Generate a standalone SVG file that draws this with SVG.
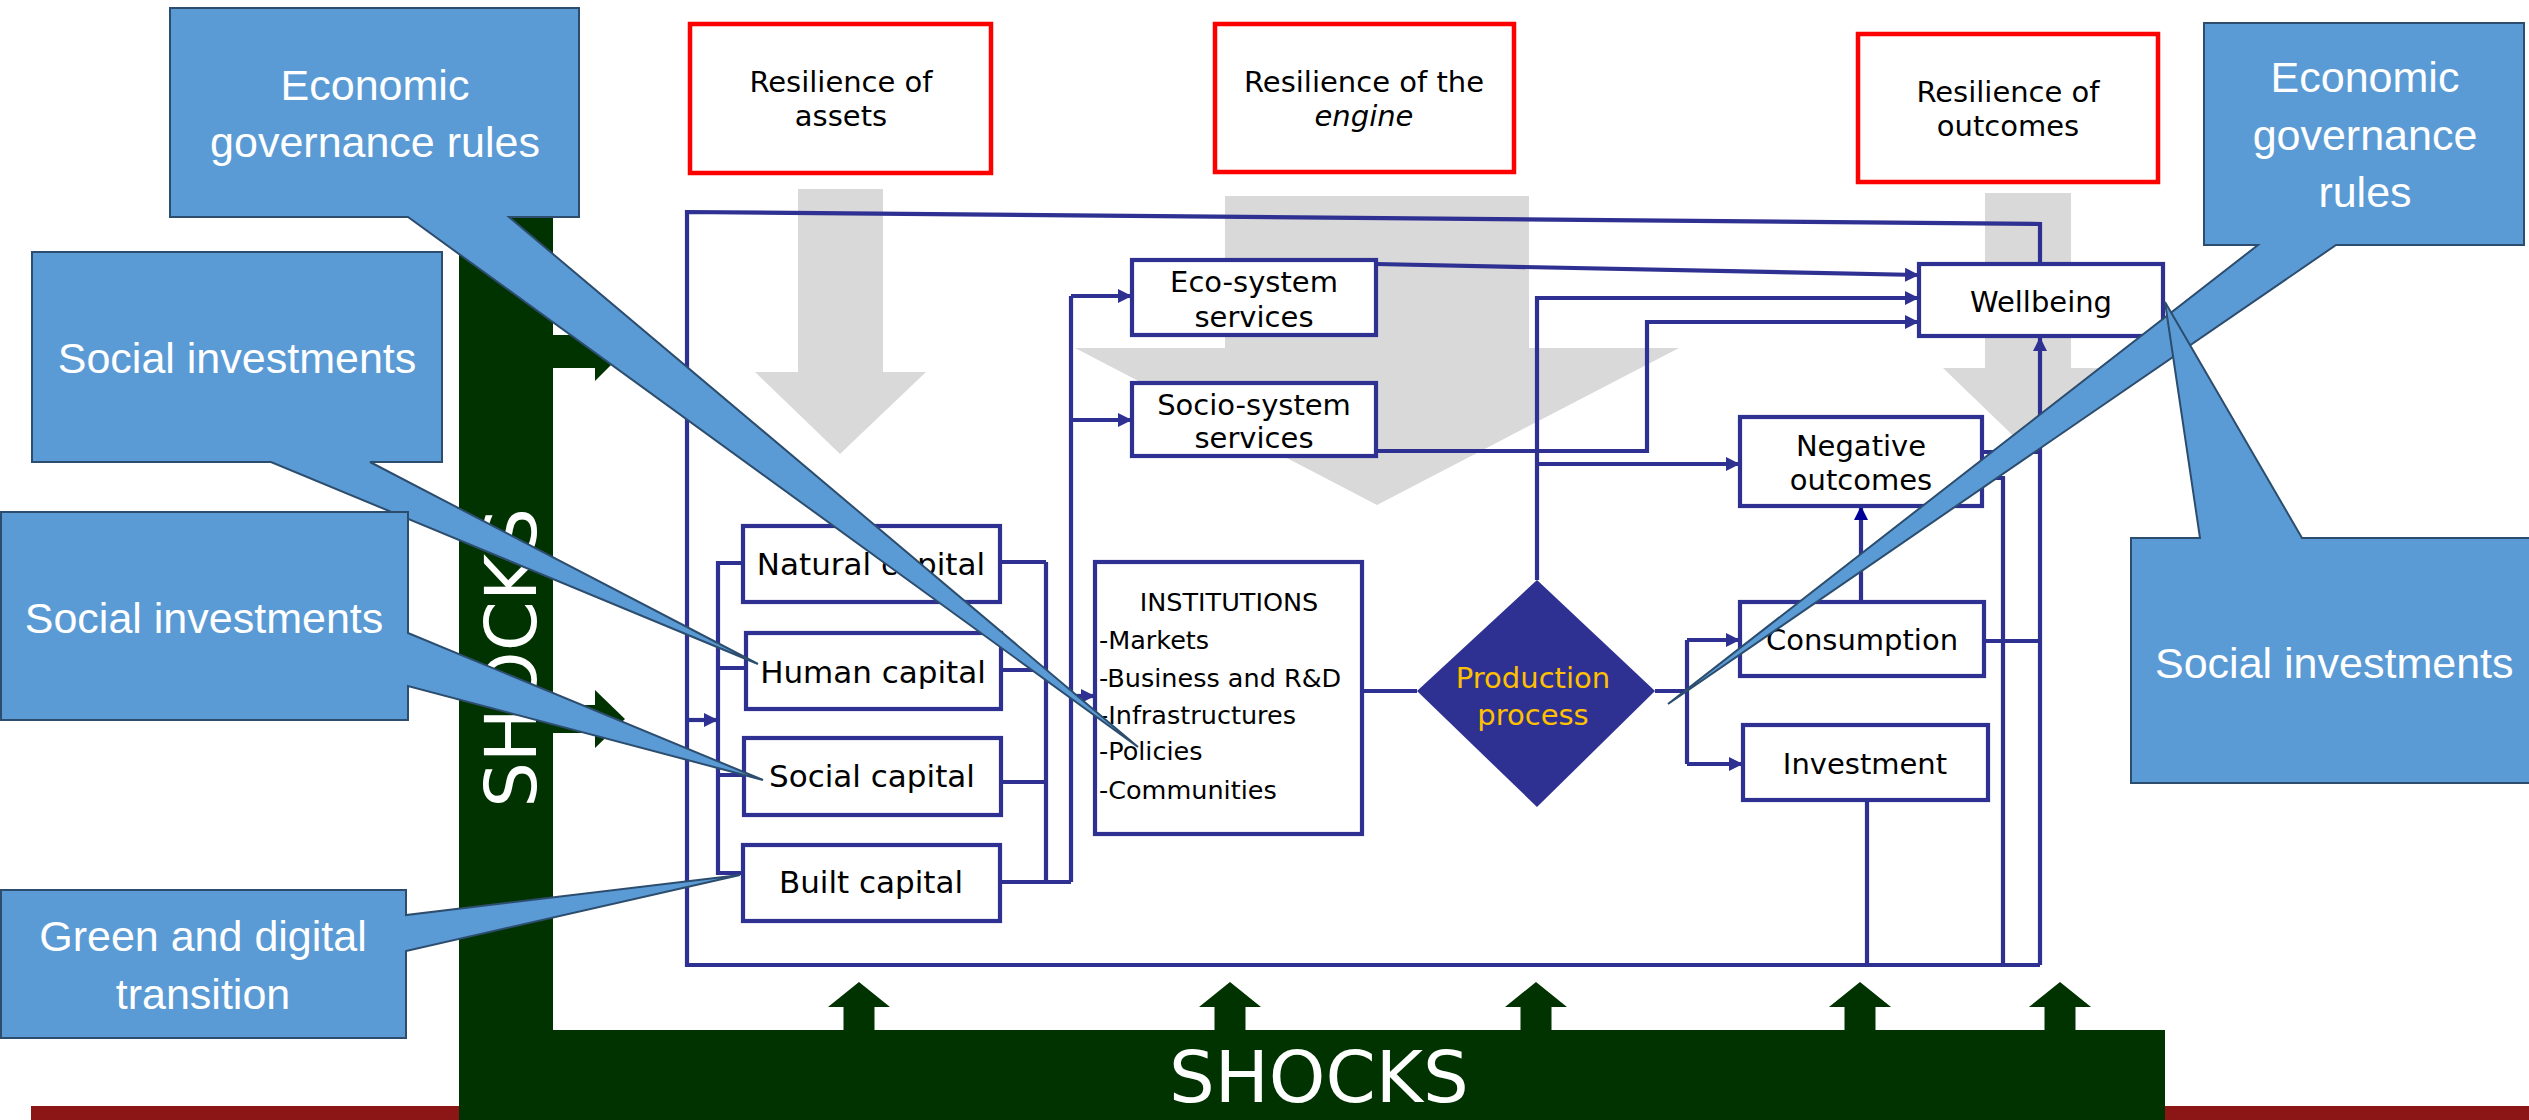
<svg xmlns="http://www.w3.org/2000/svg" width="2529" height="1120" viewBox="0 0 2529 1120">
<style>
.ln{fill:none;stroke:#2e3192;stroke-width:4.2}
.box{fill:#fff;stroke:#2e3192;stroke-width:4.2}
.red{fill:#fff;stroke:#ff0000;stroke-width:4.5}
.gray{fill:#d9d9d9}
.grn{fill:#003300}
.t{font-family:'DejaVu Sans',Verdana,sans-serif;fill:#000;text-anchor:middle}
.t29{font-size:29px}
.t31{font-size:31px}
.ti{font-family:'DejaVu Sans',Verdana,sans-serif;font-size:25.5px;fill:#000}
.co{fill:#5b9bd5;stroke:#2c4d6e;stroke-width:2;stroke-linejoin:miter}
.ct{font-family:'Liberation Sans',Arial,sans-serif;font-size:43px;fill:#fff;text-anchor:middle}
.sh{font-family:'DejaVu Sans',Verdana,sans-serif;font-size:72px;fill:#fff}
</style>
<defs>
<marker id="ah" markerUnits="userSpaceOnUse" markerWidth="16" markerHeight="16" refX="14" refY="7" orient="auto">
<path d="M0,0 L14,7 L0,14 Z" fill="#2e3192"/>
</marker>
<marker id="ahd" markerUnits="userSpaceOnUse" markerWidth="16" markerHeight="16" refX="14" refY="7" orient="auto">
<path d="M0,0 L14,7 L0,14 Z" fill="#000099"/>
</marker>
<path id="upar" d="M-15.5,1032 V1007 H-31 L0,982 L31,1007 H15.5 V1032 Z"/>
</defs>
<rect width="2529" height="1120" fill="#fff"/>

<!-- maroon base line -->
<rect x="31" y="1106" width="2498" height="14" fill="#8c1515"/>

<!-- shocks frame -->
<g id="shocks">
<rect class="grn" x="459" y="150" width="94" height="970"/>
<rect class="grn" x="459" y="1030" width="1706" height="90"/>
<path class="grn" d="M553,335 H595 V322 L625,351 L595,381 V368 H553 Z"/>
<path class="grn" d="M553,705 H595 V690 L625,719 L595,748 V733 H553 Z"/>
<use href="#upar" x="859" class="grn"/>
<use href="#upar" x="1230" class="grn"/>
<use href="#upar" x="1536" class="grn"/>
<use href="#upar" x="1860" class="grn"/>
<use href="#upar" x="2060" class="grn"/>
<text class="sh" x="1169" y="1102">SHOCKS</text>
<text class="sh" text-anchor="middle" transform="translate(536,658) rotate(-90)">SHOCKS</text>
</g>

<!-- gray resilience arrows -->
<g id="gray-arrows">
<path class="gray" d="M798,189 H883 V372 H926 L840,454 L755,372 H798 Z"/>
<path class="gray" d="M1225,196 H1529 V348 H1679 L1377,505 L1075,348 H1225 Z"/>
<path class="gray" d="M1985,193 H2071 V368 H2113 L2028,450 L1943,368 H1985 Z"/>
</g>

<!-- resilience headers -->
<g id="res-assets"><rect class="red" x="690" y="24" width="301" height="149"/>
<text class="t t29" x="841" y="92">Resilience of</text><text class="t t29" x="841" y="126">assets</text></g>
<g id="res-engine"><rect class="red" x="1215" y="24" width="299" height="148"/>
<text class="t t29" x="1364" y="92">Resilience of the</text><text class="t t29" x="1364" y="126" font-style="italic">engine</text></g>
<g id="res-outcomes"><rect class="red" x="1858" y="34" width="300" height="148"/>
<text class="t t29" x="2008" y="102">Resilience of</text><text class="t t29" x="2008" y="136">outcomes</text></g>

<!-- connectors -->
<g id="connectors">
<path class="ln" d="M2040,264 V224 L687,212 V965 H2040"/>
<path class="ln" d="M2040,965 V337" marker-end="url(#ah)"/>
<path class="ln" d="M687,720 H718" marker-end="url(#ah)"/>
<path class="ln" d="M743,563 H718 V873 H743 M718,668 H746 M718,775 H744"/>
<path class="ln" d="M1000,562 H1046 M1001,670 H1046 M1001,782 H1046 M1046,562 V882 M1000,882 H1071 M1071,882 V296"/>
<path class="ln" d="M1071,296 H1132" marker-end="url(#ah)"/>
<path class="ln" d="M1071,420 H1132" marker-end="url(#ah)"/>
<path class="ln" d="M1071,696 H1095" marker-end="url(#ah)"/>
<path class="ln" d="M1376,264 L1919,275" marker-end="url(#ah)"/>
<path class="ln" d="M1537,580 V298 H1919" marker-end="url(#ah)"/>
<path class="ln" d="M1537,464 H1740" marker-end="url(#ah)"/>
<path class="ln" d="M1376,451 H1647 V322 H1919" marker-end="url(#ah)"/>
<path class="ln" d="M1362,691 H1417 M1655,691 H1687 M1687,640 V764"/>
<path class="ln" d="M1687,640 H1740" marker-end="url(#ah)"/>
<path class="ln" d="M1687,764 H1743" marker-end="url(#ah)"/>
<path class="ln" d="M1861,602 V506" stroke="#000099" marker-end="url(#ahd)"/>
<path class="ln" d="M1984,641 H2040 M1867,800 V965 M1982,452 H2040 M1982,478 H2003 V965"/>
</g>

<!-- nodes -->
<g id="eco"><rect class="box" x="1132" y="260" width="244" height="75"/>
<text class="t t29" x="1254" y="292">Eco-system</text><text class="t t29" x="1254" y="327">services</text></g>
<g id="socio"><rect class="box" x="1132" y="383" width="244" height="73"/>
<text class="t t29" x="1254" y="415">Socio-system</text><text class="t t29" x="1254" y="448">services</text></g>
<g id="natural"><rect class="box" x="743" y="526" width="257" height="76"/>
<text class="t t31" x="871" y="575">Natural capital</text></g>
<g id="human"><rect class="box" x="746" y="633" width="255" height="76"/>
<text class="t t31" x="873" y="683">Human capital</text></g>
<g id="social"><rect class="box" x="744" y="738" width="257" height="77"/>
<text class="t t31" x="872" y="787">Social capital</text></g>
<g id="built"><rect class="box" x="743" y="845" width="257" height="76"/>
<text class="t t31" x="871" y="893">Built capital</text></g>
<g id="institutions"><rect class="box" x="1095" y="562" width="267" height="272"/>
<text class="ti" x="1229" y="611" text-anchor="middle">INSTITUTIONS</text>
<text class="ti" x="1099" y="649">-Markets</text>
<text class="ti" x="1099" y="687">-Business and R&amp;D</text>
<text class="ti" x="1099" y="724">-Infrastructures</text>
<text class="ti" x="1099" y="760">-Policies</text>
<text class="ti" x="1099" y="799">-Communities</text></g>
<g id="production"><path d="M1417,691 L1537,580 L1655,691 L1537,807 Z" fill="#2e3192"/>
<text class="t t29" x="1533" y="688" style="fill:#ffc000">Production</text>
<text class="t t29" x="1533" y="725" style="fill:#ffc000">process</text></g>
<g id="wellbeing"><rect class="box" x="1919" y="264" width="244" height="72"/>
<text class="t t29" x="2041" y="312">Wellbeing</text></g>
<g id="negative"><rect class="box" x="1740" y="417" width="242" height="89"/>
<text class="t t29" x="1861" y="456">Negative</text><text class="t t29" x="1861" y="490">outcomes</text></g>
<g id="consumption"><rect class="box" x="1740" y="602" width="244" height="74"/>
<text class="t t29" x="1862" y="650">Consumption</text></g>
<g id="investment"><rect class="box" x="1743" y="725" width="245" height="75"/>
<text class="t t29" x="1865" y="774">Investment</text></g>

<!-- callouts -->
<g id="callout-egr-left"><path class="co" d="M170,8 H579 V217 H509 L1138,747 L408,217 H170 Z"/>
<text class="ct" x="375" y="100">Economic</text><text class="ct" x="375" y="157">governance rules</text></g>
<g id="callout-si-1"><path class="co" d="M32,252 H442 V462 H370 L758,664 L271,462 H32 Z"/>
<text class="ct" x="237" y="373">Social investments</text></g>
<g id="callout-si-2"><path class="co" d="M1,512 H408 V633 L763,780 L408,686 V720 H1 Z"/>
<text class="ct" x="204" y="633">Social investments</text></g>
<g id="callout-green"><path class="co" d="M1,890 H406 V915 L740,875 L406,951 V1038 H1 Z"/>
<text class="ct" x="203" y="951">Green and digital</text><text class="ct" x="203" y="1009">transition</text></g>
<g id="callout-egr-right"><path class="co" d="M2204,23 H2524 V245 H2336 L1668,704 L2258,245 H2204 Z"/>
<text class="ct" x="2365" y="92">Economic</text><text class="ct" x="2365" y="150">governance</text><text class="ct" x="2365" y="207">rules</text></g>
<g id="callout-si-right"><path class="co" d="M2131,538 H2200 L2165,302 L2302,538 H2540 V783 H2131 Z"/>
<text class="ct" x="2155" y="678" style="text-anchor:start">Social investments</text></g>
</svg>
